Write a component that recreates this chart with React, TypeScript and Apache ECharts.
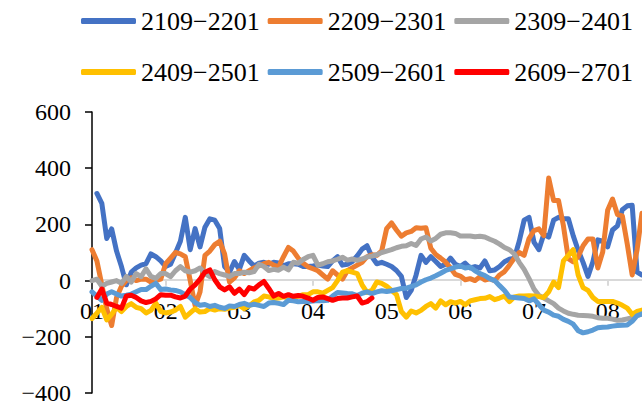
import React, { useEffect, useRef } from "react";
import * as echarts from "echarts";

const months = ["01", "02", "03", "04", "05", "06", "07", "08"];
const POINTS_PER_MONTH = 15;
const TOTAL_POINTS = 113;
const yTicks = [-400, -200, 0, 200, 400, 600];

const seriesNames = ["2109−2201", "2209−2301", "2309−2401", "2409−2501", "2509−2601", "2609−2701"];
const seriesColors = ["#4472C4", "#ED7D31", "#A5A5A5", "#FFC000", "#5B9BD5", "#FF0000"];

const s2109 = [
  null, 310, 275, 150, 184, 105, 50, -15, 30, 45,
  55, 60, 95, 85, 70, 50, 58, 98, 140, 225,
  110, 185, 120, 190, 220, 215, 185, 50, 30, 68,
  40, 90, 70, 52, 62, 65, 58, 65, 63, 53,
  60, 60, 58, 50, 50, 52, 55, 52, 50, 70,
  85, 55, 58, 68, 88, 112, 124, 85, 60, 65,
  58, 50, 36, 15, -60, -35, 20, 90, 65, 85,
  68, 50, 58, 80, 58, 50, 62, 45, 50, 45,
  70, 35, 38, 50, 67, 76, 80, 140, 215, 225,
  137, 110, 165, 155, 215, 225, 220, 220, 159, 108,
  65, 15, 67, 145, 140, 120, 180, 195, 252, 266,
  268, 30, 20,
];
const s2209 = [
  110, 70, -15, -100, -160, -60, -20, 0, 10, 0,
  5, 5, -5, 0, 5, 60, 80, 100, 95, 85,
  0, -90, -40, 90, 105, 128, 140, 95, -5, 10,
  35, 25, 35, 45, 53, 60, 65, 55, 49, 85,
  118, 105, 80, 62, 49, 42, 35, 20, 5, 35,
  20, 5, 35, 45, 55, 65, 85, 92, 90, 106,
  185, 205, 180, 158, 170, 175, 188, 186, 188, 115,
  93, 80, 66, 45, 22, 16, 3, 7, 0, 14,
  2, 6, 0, 20, 32, 55, 80, 100, 90, 150,
  178, 184, 160, 365, 285, 285, 195, 78, 67, 85,
  124, 148, 148, 45, 102, 250, 290, 235, 230, 130,
  20, 110, 240,
];
const s2309 = [
  0, 5, -20, -10, -5, 0, -10, 15, -5, 25,
  14, 42, 15, 8, 25, 25, 14, 35, 50, 35,
  30, 35, 45, 25, 14, 32, 25, 20, 14, 25,
  25, 30, 28, 32, 58, 50, 36, 40, 37, 48,
  38, 65, 62, 75, 85, 90, 55, 60, 67, 70,
  76, 83, 73, 77, 72, 77, 84, 87, 92, 100,
  105, 110, 117, 122, 124, 132, 125, 148, 155, 141,
  150, 165, 170, 170, 168, 159, 159, 159, 156, 158,
  155, 147, 140, 130, 118, 110, 95, 65, 40, 7,
  -30, -53, -62, -72, -82, -98, -108, -116, -120, -123,
  -124, -125, -127, -132, -134, -134, -137, -141, -140, -136,
  -132, -123, -120,
];
const s2409 = [
  -135, -116, -95, -140, -120, -95, -110, -92, -82, -95,
  -100, -115, -106, -80, -110, -115, -112, -105, -92, -130,
  -115, -100, -112, -110, -100, -105, -100, -102, -98, -95,
  -88, -100, -90, -76, -70, -55, -58, -64, -62, -58,
  -60, -58, -56, -50, -50, -40, -40, -45, -35, -25,
  0, 30, 35, 30, 25, -15, -42, -35, -5, -10,
  -20, -35, -50, -110, -130, -108, -115, -106, -92, -82,
  -98, -72, -86, -75, -80, -74, -86, -72, -68, -64,
  -63, -57, -68, -62, -55, -75, -58, -55, -55, -54,
  -55, -57, -60, -40, -5, -25, 70, 90, 110, 20,
  -25, -35, -60, -74, -74, -74, -74, -80, -88, -98,
  -120, -110, -105,
];
const s2509 = [
  -40, -55, -70, -48, -40, -48, -55, -52, -48, -40,
  -32, -32, -20, -10, -32, -30, -33, -35, -40, -50,
  -60, -78, -88, -85, -92, -88, -95, -99, -90, -92,
  -85, -81, -88, -84, -88, -92, -80, -78, -81, -85,
  -70, -72, -75, -74, -74, -73, -71, -72, -70, -55,
  -42, -44, -46, -47, -53, -45, -40, -46, -40, -36,
  -39, -36, -32, -28, -27, -21, -15, -5, 3, 9,
  17, 26, 36, 42, 48, 52, 45, 48, 35, 25,
  18, 7, 0, -18, -35, -58, -60, -62, -64, -72,
  -65, -85, -105, -112, -123, -127, -138, -145, -155, -178,
  -186, -182, -176, -168, -166, -165, -162, -160, -159, -158,
  -145, -125, -118,
];
const s2609 = [
  null, -60, -30, -80, -85, -92, -98, -55, -52, -60,
  -72, -78, -74, -65, -50, -52, -52, -58, -62, -55,
  -30, -15, 5, 30, 38, 3, -22, -33, -22, -45,
  -30, -50, -25, -30, -15, -3, -28, -55, -46, -56,
  -50, -56, -53, -56, -62, -70, -60, -58, -64, -70,
  -64, -62, -62, -58, -55, -80, -75, -62,
];

const seriesData = [s2109, s2209, s2309, s2409, s2509, s2609];

const categories = Array.from({ length: TOTAL_POINTS }, (_, i) => {
  const m = months[Math.floor(i / POINTS_PER_MONTH)];
  return `${m}-${String((i % POINTS_PER_MONTH) + 1).padStart(2, "0")}`;
});

const FONT = "Liberation Serif";
const GRID_TOP = 112;
const GRID_BOTTOM = 10;
const CHART_H = 405;

export default function App() {
  const ref = useRef<HTMLDivElement>(null);
  useEffect(() => {
    if (!ref.current) return;
    const chart = echarts.init(ref.current, undefined, { renderer: "svg" });
    const yMin = yTicks[0];
    const yMax = yTicks[yTicks.length - 1];
    const plotH = CHART_H - GRID_TOP - GRID_BOTTOM;
    // move the category axis from the plot bottom up to the zero line of the value scale
    const zeroOffset = -plotH * (0 - yMin) / (yMax - yMin);
    const legendCommon = {
      left: 76,
      orient: "horizontal" as const,
      itemWidth: 55,
      itemHeight: 6,
      itemGap: 8,
      icon: "roundRect",
      textStyle: { fontFamily: FONT, fontSize: 26, color: "#000" },
    };
    chart.setOption({
      animation: false,
      backgroundColor: "#fff",
      textStyle: { fontFamily: FONT },
      legend: [
        { ...legendCommon, top: 3, data: seriesNames.slice(0, 3) },
        { ...legendCommon, top: 54, data: seriesNames.slice(3, 6) },
      ],
      grid: { left: 92, right: -3, top: GRID_TOP, bottom: GRID_BOTTOM, containLabel: false },
      xAxis: {
        type: "category",
        data: categories,
        boundaryGap: false,
        position: "bottom",
        offset: zeroOffset,
        axisLine: { onZero: false, lineStyle: { color: "#d9d9d9", width: 2 } },
        axisTick: {
          show: true,
          interval: (index: number) => index % (POINTS_PER_MONTH * 2) === POINTS_PER_MONTH,
          length: 6,
          lineStyle: { color: "#d9d9d9", width: 2 },
        },
        axisLabel: {
          interval: (index: number) => index % POINTS_PER_MONTH === 0,
          formatter: (v: string) => v.slice(0, 2),
          margin: 19,
          fontFamily: FONT,
          fontSize: 24,
          color: "#000",
        },
        splitLine: { show: false },
        z: 1,
      },
      yAxis: {
        type: "value",
        min: yMin,
        max: yMax,
        interval: 200,
        axisLine: { show: true, lineStyle: { color: "#000", width: 1.5 } },
        axisTick: { show: true, length: 7, lineStyle: { color: "#000", width: 1.5 } },
        axisLabel: {
          margin: 21,
          fontFamily: FONT,
          fontSize: 24,
          color: "#000",
          formatter: (v: number) => String(v).replace("-", "−"),
        },
        splitLine: { show: false },
      },
      series: seriesNames.map((name, k) => ({
        name,
        type: "line",
        data: seriesData[k],
        symbol: "none",
        showSymbol: false,
        connectNulls: false,
        color: seriesColors[k],
        lineStyle: { width: 5, color: seriesColors[k], join: "round", cap: "round" },
        z: 2 + k,
      })),
    });
    return () => chart.dispose();
  }, []);
  return (
    <div
      ref={ref}
      style={{ position: "fixed", left: 0, top: 0, width: 642, height: 405, background: "#fff" }}
    />
  );
}
